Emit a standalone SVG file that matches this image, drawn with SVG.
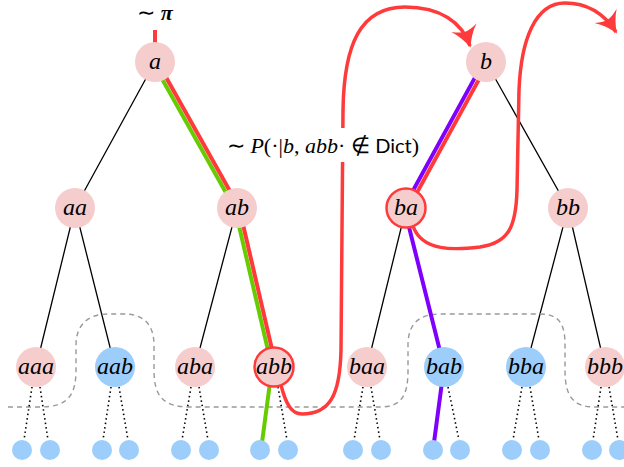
<svg xmlns="http://www.w3.org/2000/svg" width="624" height="467" viewBox="0 0 624 467">
<style>
.pink{fill:#f6cdcd}
.blue{fill:#9dcdfb}
.hl{stroke:#ff3a3a;stroke-width:2.5}
.edge{stroke:#000;stroke-width:1.3;fill:none}
.dot{stroke:#000;stroke-width:1.6;stroke-dasharray:1.5 3;fill:none}
.lbl{font-family:"Liberation Serif",serif;font-style:italic;font-size:24px;text-anchor:middle;fill:#000}
.red{stroke:#ff3a3a;fill:none}
.green{stroke:#66cc00;fill:none}
.purple{stroke:#7f00ff;fill:none}
</style>
<defs>
<marker id="arr" markerUnits="userSpaceOnUse" markerWidth="36" markerHeight="36" viewBox="-20 -15 24 30" refX="0" refY="0" orient="auto">
<path d="M 1.5 0 C -5 -2.5, -11 -6, -16 -11 C -13.5 -6, -12.5 -2.5, -12.5 0 C -12.5 2.5, -13.5 6, -16 11 C -11 6, -5 2.5, 1.5 0 Z" fill="#ff3a3a"/>
</marker>
</defs>
<rect width="624" height="467" fill="#fff"/>
<g id="connectors">
<path class="edge" d="M155 62 L75 208 M486 62 L568 208 M75 208 L36 367 M75 208 L115 367 M237 208 L195 367 M406 208 L367 367 M568 208 L526 367 M568 208 L605 367"/>
<path d="M8 407 H40 C68 407 76 395 76 370 L76 345 C76 325 88 314 108 314 L124 314 C144 314 154 325 154 345 L154 370 C154 395 162 407 190 407 L380 407 C402 407 408 395 408 370 L408 345 C408 325 418 314 440 314 L540 314 C560 314 565 325 565 345 L565 370 C565 395 572 407 595 407 L624 407" fill="none" stroke="#999" stroke-width="1.4" stroke-dasharray="5 4"/>
<path class="dot" d="M32 387 L24 440 M40 387 L48 440 M111 387 L103 440 M119 387 L128 440 M191 387 L182 440 M199 387 L208 440 M278 387 L287 440 M363 387 L354 440 M371 387 L380 440 M448 387 L459 440 M522 387 L513 440 M530 387 L539 440 M601 387 L593 440 M609 387 L618 440"/>
<polyline class="green" stroke-width="4" points="153.1,63.1 235,208.8 272,367.5 261,450"/>
<polyline class="red" stroke-width="4" points="156.9,60.9 239,207.2 276,366.5"/>
<polyline class="purple" stroke-width="4" points="484.1,60.9 404,207 444,367 433,450"/>
<line class="red" stroke-width="4" x1="487.9" y1="63.1" x2="407.9" y2="209.1"/>
<line class="red" stroke-width="4" x1="155" y1="30" x2="155" y2="44"/>
<path class="red" stroke-width="3.5" d="M281 385 C286 405 292 414 302 414 C330 414 340 395 341 350 L343 110 C344 45 360 7 405 7 C440 7 462 22 470 46" marker-end="url(#arr)"/>
<path class="red" stroke-width="3.5" d="M413 226 C422 252 455 250 480 247 C508 243 516 228 517 190 L519 90 C521 40 535 3 565 3 C590 3 605 15 616 32" marker-end="url(#arr)"/>
</g>
<g id="label-pi"><text x="155" y="20" font-family="Liberation Serif,serif" font-size="22" text-anchor="middle">∼ <tspan font-style="italic" font-weight="bold">π</tspan></text></g>
<g id="label-P">
<rect x="226" y="128" width="194" height="34" fill="#fff"/>
<text x="323" y="153" font-family="Liberation Serif,serif" font-size="22" text-anchor="middle">∼ <tspan font-style="italic">P</tspan>(·|<tspan font-style="italic">b</tspan>, <tspan font-style="italic">abb</tspan>· ∉ <tspan font-family="Lato,sans-serif" font-size="20">Dict</tspan>)</text>
</g>
<g id="n-a"><circle class="pink" cx="155" cy="62" r="20"/><text class="lbl" x="155" y="69">a</text></g>
<g id="n-b"><circle class="pink" cx="486" cy="62" r="20"/><text class="lbl" x="486" y="69">b</text></g>
<g id="n-aa"><circle class="pink" cx="75" cy="208" r="20"/><text class="lbl" x="75" y="215">aa</text></g>
<g id="n-ab"><circle class="pink" cx="237" cy="208" r="20"/><text class="lbl" x="237" y="215">ab</text></g>
<g id="n-ba"><circle class="pink hl" cx="406" cy="208" r="19.5"/><text class="lbl" x="406" y="215">ba</text></g>
<g id="n-bb"><circle class="pink" cx="568" cy="208" r="20"/><text class="lbl" x="568" y="215">bb</text></g>
<g id="n-aaa"><circle class="pink" cx="36" cy="367" r="20"/><text class="lbl" x="36" y="374">aaa</text></g>
<g id="n-aab"><circle class="blue" cx="115" cy="367" r="20"/><text class="lbl" x="115" y="374">aab</text></g>
<g id="n-aba"><circle class="pink" cx="195" cy="367" r="20"/><text class="lbl" x="195" y="374">aba</text></g>
<g id="n-abb"><circle class="pink hl" cx="274" cy="367" r="19.5"/><text class="lbl" x="274" y="374">abb</text></g>
<g id="n-baa"><circle class="pink" cx="367" cy="367" r="20"/><text class="lbl" x="367" y="374">baa</text></g>
<g id="n-bab"><circle class="blue" cx="444" cy="367" r="20"/><text class="lbl" x="444" y="374">bab</text></g>
<g id="n-bba"><circle class="blue" cx="526" cy="367" r="20"/><text class="lbl" x="526" y="374">bba</text></g>
<g id="n-bbb"><circle class="pink" cx="605" cy="367" r="20"/><text class="lbl" x="605" y="374">bbb</text></g>
<g id="leaves">
<circle class="blue" cx="22" cy="450" r="10"/><circle class="blue" cx="50" cy="450" r="10"/>
<circle class="blue" cx="102" cy="450" r="10"/><circle class="blue" cx="129" cy="450" r="10"/>
<circle class="blue" cx="181" cy="450" r="10"/><circle class="blue" cx="209" cy="450" r="10"/>
<circle class="blue" cx="260" cy="450" r="10"/><circle class="blue" cx="288" cy="450" r="10"/>
<circle class="blue" cx="353" cy="450" r="10"/><circle class="blue" cx="381" cy="450" r="10"/>
<circle class="blue" cx="433" cy="450" r="10"/><circle class="blue" cx="460" cy="450" r="10"/>
<circle class="blue" cx="512" cy="450" r="10"/><circle class="blue" cx="540" cy="450" r="10"/>
<circle class="blue" cx="592" cy="450" r="10"/><circle class="blue" cx="619" cy="450" r="10"/>
</g>
</svg>
